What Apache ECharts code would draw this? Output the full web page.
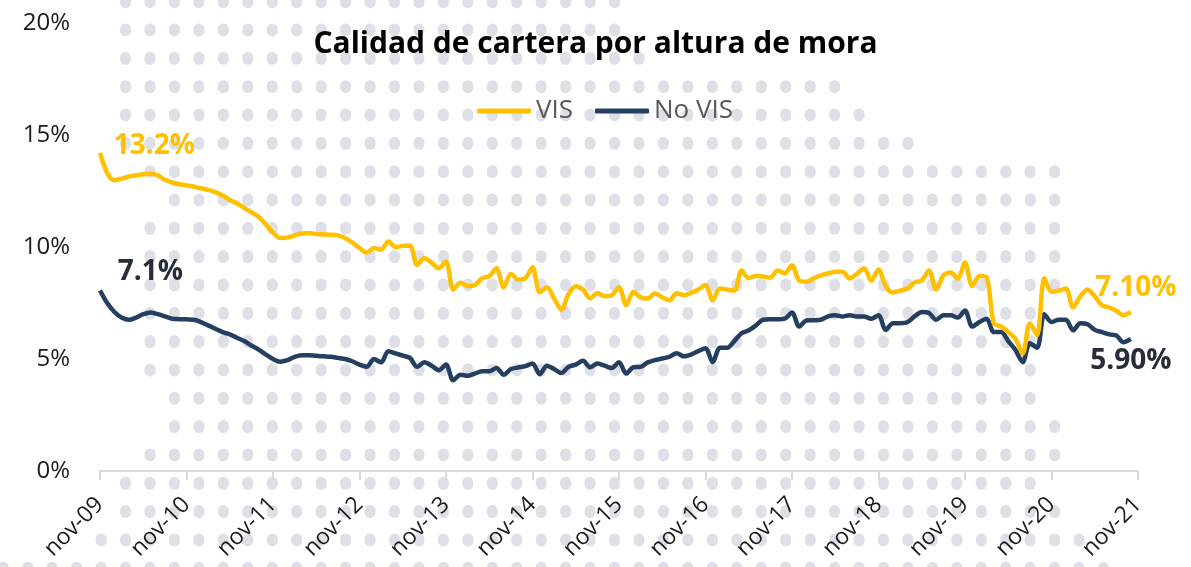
<!DOCTYPE html>
<html><head><meta charset="utf-8">
<script src="https://cdn.jsdelivr.net/npm/echarts@6/dist/echarts.min.js"></script>
<style>html,body{margin:0;padding:0;background:#fff}#c{width:1191px;height:567px}</style>
</head><body><div id="c"></div>
<script>
// ---- data ----
const monthNames = ['ene','feb','mar','abr','may','jun','jul','ago','sep','oct','nov','dic'];
const startYear = 2009, startMonth = 10; // nov-09
const nMonths = 145; // nov-09 .. nov-21
const categories = [];
for (let i = 0; i < nMonths; i++) {
  const m = (startMonth + i) % 12;
  const y = startYear + Math.floor((startMonth + i) / 12);
  categories.push(monthNames[m] + '-' + String(y % 100).padStart(2, '0'));
}
const yTicks = [0, 5, 10, 15, 20];

const vis = [
  14.2, 13.3, 12.98, 13.05, 13.15, 13.2, 13.25, 13.27, 13.2, 13.0,
  12.88, 12.8, 12.75, 12.7, 12.62, 12.55, 12.45, 12.3, 12.1, 11.95,
  11.75, 11.55, 11.35, 11.0, 10.65, 10.4, 10.42, 10.52, 10.6, 10.62,
  10.58, 10.56, 10.55, 10.52, 10.4, 10.2, 9.95, 9.75, 9.95, 9.88,
  10.25, 10.0, 10.05, 10.07, 9.2, 9.5, 9.3, 9.05, 9.35, 8.1,
  8.4, 8.25, 8.3, 8.6, 8.7, 9.05, 8.2, 8.8, 8.55, 8.6,
  9.1, 7.97, 8.2, 7.7, 7.2, 7.9, 8.25, 8.1, 7.71, 7.95,
  7.8, 7.85, 8.2, 7.4, 8.0, 7.75, 7.7, 7.93, 7.75, 7.62,
  7.93, 7.85, 7.95, 8.1, 8.3, 7.62, 8.15, 8.1, 8.05, 8.95,
  8.6, 8.72, 8.68, 8.64, 8.95, 8.82, 9.18, 8.5, 8.45, 8.6,
  8.73, 8.82, 8.9, 8.9, 8.6, 8.8, 9.05, 8.5, 9.0, 8.25,
  7.97, 8.05, 8.15, 8.42, 8.5, 8.95, 8.1, 8.73, 8.86, 8.6,
  9.31, 8.25, 8.7, 8.64, 6.6, 6.45, 6.2, 5.9, 5.25, 6.6,
  6.06, 8.6, 8.0, 8.05, 8.15, 7.3, 7.8, 8.1, 7.8, 7.4,
  7.3, 7.15, 6.95, 7.1
];
const noVis = [
  8.06, 7.5, 7.1, 6.85, 6.75, 6.85, 7.0, 7.08, 7.0, 6.9,
  6.8, 6.78, 6.77, 6.75, 6.65, 6.5, 6.35, 6.2, 6.1, 5.95,
  5.8, 5.6, 5.42, 5.2, 5.0, 4.88, 4.95, 5.1, 5.17, 5.17,
  5.14, 5.12, 5.1, 5.05, 5.0, 4.9, 4.75, 4.65, 5.0, 4.85,
  5.35, 5.25, 5.15, 5.05, 4.65, 4.85, 4.7, 4.5, 4.75, 4.05,
  4.3, 4.25, 4.35, 4.45, 4.45, 4.6, 4.3, 4.55, 4.62, 4.68,
  4.8, 4.32, 4.7, 4.55, 4.37, 4.65, 4.75, 4.92, 4.63, 4.8,
  4.7, 4.6, 4.86, 4.35, 4.63, 4.65, 4.85, 4.95, 5.02, 5.1,
  5.26, 5.12, 5.2, 5.35, 5.48, 4.86, 5.5, 5.5, 5.8, 6.15,
  6.28, 6.5, 6.75, 6.77, 6.77, 6.8, 7.08, 6.45, 6.72, 6.73,
  6.75, 6.9, 6.95, 6.9, 6.95, 6.9, 6.9, 6.8, 6.95, 6.3,
  6.6, 6.6, 6.64, 6.9, 7.1, 7.05, 6.75, 6.95, 6.95, 6.85,
  7.17, 6.45, 6.65, 6.8, 6.2, 6.2, 5.8, 5.4, 4.86, 5.7,
  5.5, 7.0, 6.65, 6.75, 6.75, 6.28, 6.6, 6.55, 6.3, 6.2,
  6.1, 6.05, 5.75, 5.9
];
const seriesNames = ['VIS', 'No VIS'];
const visLabels = [{ idx: 7, text: '13.2%' }, { idx: 143, text: '7.10%' }];
const noVisLabels = [{ idx: 7, text: '7.1%' }, { idx: 143, text: '5.90%' }];

// ---- decorative dot background ----
const dotRows = [
  [125, 615], [125, 615], [125, 640], [125, 836], [125, 860], [125, 918],
  [150, 1056], [174, 1056], [150, 1056], [150, 1056], [150, 1056], [150, 1031],
  [150, 1031], [150, 1031], [174, 1031], [174, 1056], [150, 1056], [125, 1031],
  [125, 1056], [101, 1080], [0, 1100]
];
const dots = [];
dotRows.forEach((r, ri) => {
  const cy = 1.65 + 28.33 * ri;
  const k0 = Math.round((r[0] - 150) / 24.45), k1 = Math.round((r[1] - 150) / 24.45);
  for (let k = k0; k <= k1; k++) {
    const cx = 150 + 24.45 * k;
    dots.push({ type: 'rect', silent: true, z: -10,
      shape: { x: cx - 5.5, y: cy - 6.5, width: 11, height: 13, r: 5.5 },
      style: { fill: '#dfdfe7' } });
  }
});

const YEL = '#FFC000', NAVY = '#243F60', DARK = '#262d38';
const FONT = '"Open Sans", sans-serif';

function mp(arr, list, color, offsets) {
  return {
    symbol: 'circle', symbolSize: 0, silent: true,
    data: list.map((l, j) => ({
      coord: [categories[l.idx], arr[l.idx]],
      label: { show: true, position: 'inside', formatter: l.text, offset: offsets[j],
        color: color, fontSize: 28, fontWeight: 'bold', fontFamily: FONT }
    }))
  };
}

const chart = echarts.init(document.getElementById('c'));
chart.setOption({
  backgroundColor: '#ffffff',
  animation: false,
  graphic: { elements: dots },
  title: {
    text: 'Calidad de cartera por altura de mora', left: 'center', top: 24,
    textStyle: { fontFamily: FONT, fontSize: 30, fontWeight: 'bold', color: '#000' }
  },
  legend: {
    data: seriesNames, left: 472, top: 93, icon: 'roundRect', itemWidth: 54, itemHeight: 5,
    itemGap: 22, textStyle: { fontFamily: FONT, fontSize: 26, color: '#595959' }
  },
  grid: { left: 100, right: 53, top: 23, bottom: 96, containLabel: false },
  xAxis: {
    type: 'category', data: categories, boundaryGap: false,
    axisLine: { lineStyle: { color: '#d9d9d9', width: 2 } },
    axisTick: { interval: 11, length: 9, lineStyle: { color: '#d9d9d9', width: 2 } },
    axisLabel: { interval: 11, rotate: 45, margin: 30, fontFamily: FONT, fontSize: 23, color: '#1a1a1a' },
    splitLine: { show: false }
  },
  yAxis: {
    type: 'value', min: yTicks[0], max: yTicks[yTicks.length - 1], interval: 5,
    axisLine: { show: false }, axisTick: { show: false }, splitLine: { show: false },
    axisLabel: { formatter: '{value}%', margin: 30, fontFamily: FONT, fontSize: 24, color: '#1a1a1a' }
  },
  series: [
    { name: seriesNames[0], type: 'line', data: vis, smooth: 0.3, symbol: 'none',
      lineStyle: { color: YEL, width: 4.5 }, itemStyle: { color: YEL }, z: 3,
      markPoint: mp(vis, visLabels, YEL, [[4, -28], [5, -24]]) },
    { name: seriesNames[1], type: 'line', data: noVis, smooth: 0.3, symbol: 'none',
      lineStyle: { color: NAVY, width: 4.5 }, itemStyle: { color: NAVY }, z: 2,
      markPoint: mp(noVis, noVisLabels, DARK, [[0, -40], [0, 22]]) }
  ]
});
</script></body></html>
